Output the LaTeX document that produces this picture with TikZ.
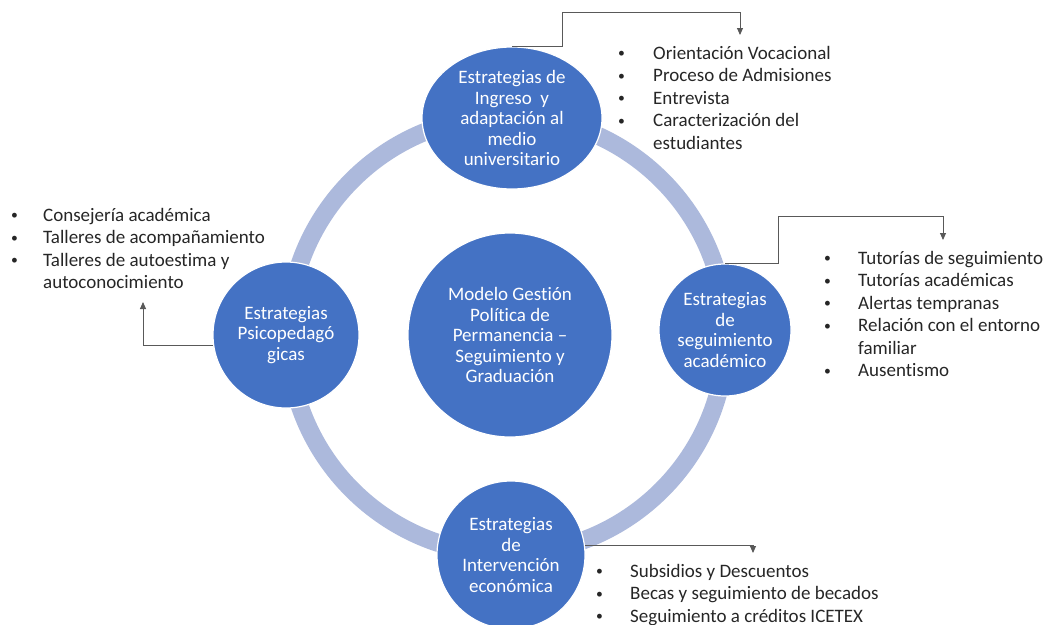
\documentclass[tikz,border=0pt]{standalone}
\usepackage{fontspec}
\setmainfont{Carlito}[Ligatures={TeX,NoCommon}]
\usetikzlibrary{arrows.meta, shapes.geometric}
\definecolor{bubbleblue}{RGB}{68,114,196}
\definecolor{ringblue}{RGB}{172,185,220}
\definecolor{connectgray}{RGB}{89,89,89}
\definecolor{listtext}{RGB}{38,38,38}
\newcommand{\listfont}{\fontsize{19}{22.5}\selectfont}
\newcommand{\bubblefont}{\fontsize{19}{20.5}\selectfont}
\newcommand{\listbullet}{\raisebox{0.12ex}{\scalebox{0.72}{\textbullet}}}

\begin{document}
\begin{tikzpicture}[x=1pt, y=-1pt,
    ringstyle/.style={draw=ringblue, line width=18pt},
    bubble/.style={circle, fill=bubbleblue, draw=white, line width=1.2pt,
      text=white, align=center, inner sep=0pt, font=\bubblefont},
    liststyle/.style={anchor=base west, inner sep=0pt, text=listtext, font=\listfont},
    connstyle/.style={-{Triangle[width=6pt,length=7pt]}, draw=connectgray, line width=0.9pt}]
  \useasboundingbox (0,0) rectangle (1051,624);
  % ring behind the bubbles
  \coordinate (ringc) at (507,335);
  \draw[ringstyle] (ringc) circle (219);
  % bubbles
  \node[bubble, minimum size=204pt] (modelo) at (510,335)
    {Modelo Gestión\\Política de\\Permanencia --\\Seguimiento y\\Graduación};
  \node[bubble, ellipse, minimum width=180pt, minimum height=142pt] (ingreso) at (512,118)
    {Estrategias de\\Ingreso\ \ y\\adaptación al\\medio\\universitario};
  \node[bubble, minimum size=146pt] (psico) at (286,335)
    {Estrategias\\Psicopedagó\\gicas};
  \node[bubble, minimum size=132pt] (seguimiento) at (725,330)
    {Estrategias\\de\\seguimiento\\académico};
  \node[bubble, minimum size=148pt] (intervencion) at (511,555)
    {Estrategias\\de\\Intervención\\económica};
  % lists
  \node[liststyle] (ingresolist) at (618,59) {\begin{tabular}[t]{@{}p{35pt}@{}l@{}}
    \listbullet & Orientación Vocacional\\
    \listbullet & Proceso de Admisiones\\
    \listbullet & Entrevista\\
    \listbullet & Caracterización del\\
                & estudiantes
  \end{tabular}};
  \node[liststyle] (seguimientolist) at (824,264) {\begin{tabular}[t]{@{}p{34pt}@{}l@{}}
    \listbullet & Tutorías de seguimiento\\
    \listbullet & Tutorías académicas\\
    \listbullet & Alertas tempranas\\
    \listbullet & Relación con el entorno\\
                & familiar\\
    \listbullet & Ausentismo
  \end{tabular}};
  \node[liststyle] (psicolist) at (11,221) {\begin{tabular}[t]{@{}p{32pt}@{}l@{}}
    \listbullet & Consejería académica\\
    \listbullet & Talleres de acompañamiento\\
    \listbullet & Talleres de autoestima y\\
                & autoconocimiento
  \end{tabular}};
  \node[liststyle] (intervencionlist) at (596,577) {\begin{tabular}[t]{@{}p{34pt}@{}l@{}}
    \listbullet & Subsidios y Descuentos\\
    \listbullet & Becas y seguimiento de becados\\
    \listbullet & Seguimiento a créditos ICETEX
  \end{tabular}};
  % elbow connectors
  \coordinate (ingresotip) at (740,35);
  \coordinate (seguimientotip) at (943,240);
  \coordinate (psicotip) at (143,302);
  \coordinate (intervenciontip) at (753,553);
  \draw[connstyle] (ingreso.north) -- ++(50,0) -- ++(0,-34) -| (ingresotip);
  \draw[connstyle] (seguimiento.north) -- ++(53,0) -- ++(0,-47) -| (seguimientotip);
  \draw[connstyle] (psico.188) -| (psicotip);
  \draw[connstyle] (intervencion.7) -| (intervenciontip);
\end{tikzpicture}
\end{document}
